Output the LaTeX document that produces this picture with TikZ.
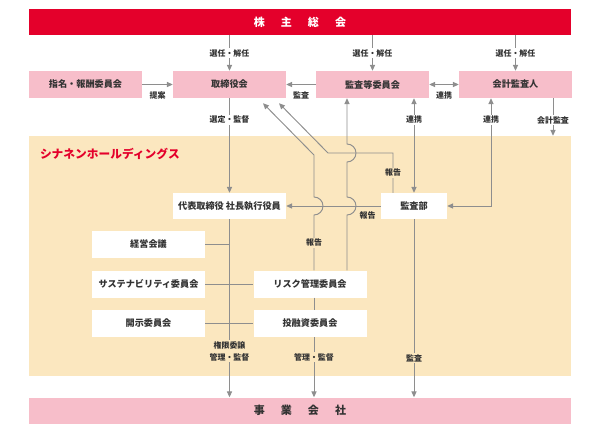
\documentclass[tikz,border=0pt]{standalone}
\usepackage{fontspec}
\setmainfont{Noto Sans CJK JP}
\usetikzlibrary{arrows.meta,positioning,calc}
\definecolor{hdred}{HTML}{E4002B}
\definecolor{hdpink}{HTML}{F7BECA}
\definecolor{hdbeige}{HTML}{FBE7BF}
\definecolor{hdgray}{HTML}{8E8E8E}
\definecolor{hdtext}{HTML}{333333}
\tikzset{>={Triangle[length=5pt,width=4.4pt]},
    every node/.style={text=hdtext},
    bar/.style={minimum width=542*0.3mm, minimum height=26*0.3mm, inner sep=0pt, font=\fontsize{9.4}{10}\bfseries},
    pinkbox/.style={fill=hdpink, minimum width=113*0.3mm, minimum height=27*0.3mm, inner sep=0pt, font=\fontsize{7.8}{9}\bfseries},
    whitebox/.style={pinkbox, fill=white},
    lbl/.style={font=\fontsize{6.8}{10.2}\bfseries, inner sep=1pt},
    conn/.style={draw=hdgray, line width=0.8pt},
    arr/.style={conn, ->},
    darr/.style={conn, <->},
}

\begin{document}
\begin{tikzpicture}[x=0.3mm,y=-0.3mm]
    \useasboundingbox (0,0) rectangle (600,435);
    \node[fill=hdbeige, minimum width=542*0.3mm, minimum height=240*0.3mm, inner sep=0pt] (hd) at (300,256) {};
    \node[font=\fontsize{10}{12}\bfseries, text=hdred, anchor=west, inner sep=0pt] (hdname) at ([shift={(11,18)}]hd.north west) {シナネンホールディングス};

    \node[bar, fill=hdred, text=white] (soukai) at (300,22) {株\hspace{4.8mm}主\hspace{4.8mm}総\hspace{4.8mm}会};
    \node[bar, fill=hdpink] (jigyo) at (300,410.5) {事\hspace{4.8mm}業\hspace{4.8mm}会\hspace{4.8mm}社};

    \node[pinkbox] (shimei) at (85.5,84.5) {指名・報酬委員会};
    \node[pinkbox] (torishimari) at (229.5,84.5) {取締役会};
    \node[pinkbox] (kansatou) at (372.5,84.5) {監査等委員会};
    \node[pinkbox] (kaikei) at (515.5,84.5) {会計監査人};

    \node[whitebox, minimum height=26*0.3mm] (daihyo) at (229.5,206) {代表取締役 社長執行役員};
    \node[whitebox, minimum width=66*0.3mm, minimum height=26*0.3mm] (kansabu) at (414,206) {監査部};
    \node[whitebox] (keiei) at (148.5,244.5) {経営会議};
    \node[whitebox] (susta) at (148.5,284) {サステナビリティ委員会};
    \node[whitebox] (kaiji) at (148.5,323.5) {開示委員会};
    \node[whitebox] (risk) at (310,284) {リスク管理委員会};
    \node[whitebox] (touyuushi) at (310,323.5) {投融資委員会};

    \coordinate (xA) at (314,0);
    \coordinate (xB) at (393,0);
    \coordinate (xC) at (347,0);
    \coordinate (xD) at (414,0);
    \coordinate (xE) at (491,0);
    \coordinate (xF) at (553,0);
    \coordinate (tipA) at ([shift={(33.5,5)}]torishimari.south);
    \coordinate (tipB) at ([shift={(49.5,5)}]torishimari.south);

    \draw[arr] (soukai.south -| torishimari) -- node[lbl,fill=white]{選任・解任} (torishimari.north);
    \draw[arr] (soukai.south -| kansatou) -- node[lbl,fill=white]{選任・解任} (kansatou.north);
    \draw[arr] (soukai.south -| kaikei) -- node[lbl,fill=white]{選任・解任} (kaikei.north);

    \draw[arr] (shimei) -- node[lbl,below=1.6mm]{提案} (torishimari);
    \draw[arr] (kansatou) -- node[lbl,below=1.6mm]{監査} (torishimari);
    \draw[darr] (kansatou) -- node[lbl,below=1.6mm]{連携} (kaikei);

    \draw[arr] (torishimari) -- node[lbl,fill=white,pos=0.23]{選定・監督} (daihyo);
    \draw[darr] (kansatou.south -| xD) -- node[lbl,fill=white,pos=0.23]{連携} (kansabu.north -| xD);
    \draw[darr] (kaikei.south -| xE) |- node[lbl,fill=white,pos=0.1]{連携} (kansabu);
    \draw[arr] (kaikei.south -| xF) -- node[lbl,fill=white,pos=0.58]{会計監査} (hd.north -| xF);

    \draw[arr] (kansabu) -- node[lbl,below=1.2mm,pos=0.14]{報告} (daihyo);
    \draw[arr] (risk.north -| xA) -- node[lbl,fill=hdbeige]{報告} (314,215)
        arc[start angle=-90,end angle=90,radius=2.7mm] -- (314,155) -- (tipA);
    \draw[arr] (kansabu.north -| xB) |- node[lbl,fill=hdbeige,pos=0.25]{報告} (328,153) -- (tipB);
    \draw[arr] (risk.north -| xC) -- (347,215) arc[start angle=-90,end angle=90,radius=2.7mm]
        -- (347,162) arc[start angle=-90,end angle=90,radius=2.7mm] -- (kansatou.south -| xC);

    \draw[conn] (keiei.east) -- (keiei.east -| daihyo.south);
    \draw[conn] (susta) -- (risk);
    \draw[conn] (kaiji) -- (touyuushi);
    \draw[conn] (risk.south -| xA) -- (touyuushi.north -| xA);

    \draw[arr] (daihyo) -- node[lbl,fill=hdbeige,align=center,pos=0.74]{権限委譲\\管理・監督} (jigyo.north -| daihyo);
    \draw[arr] (touyuushi.south -| xA) -- node[lbl,fill=hdbeige,pos=0.33]{管理・監督} (jigyo.north -| xA);
    \draw[arr] (kansabu) -- node[lbl,fill=hdbeige,pos=0.78]{監査} (jigyo.north -| kansabu);
\end{tikzpicture}
\end{document}
